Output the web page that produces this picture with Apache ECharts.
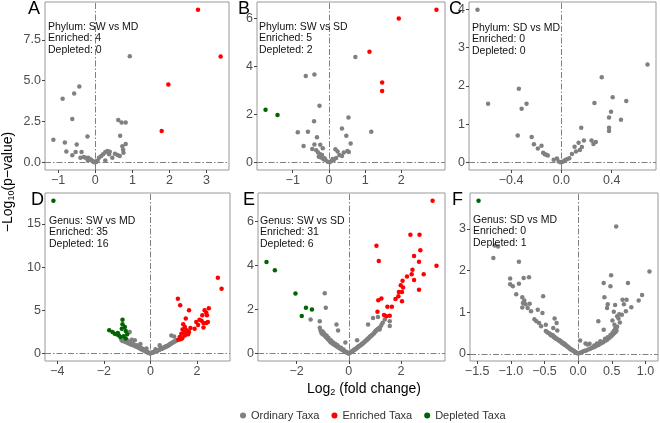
<!DOCTYPE html>
<html><head><meta charset="utf-8">
<script src="https://cdn.jsdelivr.net/npm/echarts@6/dist/echarts.min.js"></script>
<style>html,body{margin:0;padding:0;background:#fff}#c{width:660px;height:423px}</style>
</head><body><div id="c"></div>
<script>
// ---------- Panel A: Phylum SW vs MD ----------
const aOrdinary = [[0.93,6.5],[-0.88,3.89],[-0.57,4.22],[-0.43,4.64],[-0.62,2.65],[-1.13,1.38],[-0.82,1.22],[-0.21,1.59],[-0.5,1.1],[-0.78,0.67],[-0.62,0.43],[-0.53,0.63],[-0.37,0.63],[-0.4,0.29],[-0.31,0.33],[-0.26,0.29],[-0.19,0.29],[-0.15,0.2],[-0.11,0.16],[-0.2,0.12],[-0.05,0.04],[-0.03,0.0],[0.02,0.02],[0.06,0.1],[0.1,0.29],[0.16,0.39],[0.21,0.49],[0.27,0.63],[0.33,0.69],[0.39,0.65],[0.37,0.49],[0.27,0.12],[0.46,0.29],[0.53,0.53],[0.62,2.6],[0.71,2.44],[0.82,2.44],[0.67,1.63],[0.6,0.45],[0.66,0.39],[0.75,0.77],[0.82,1.12],[0.73,0.98],[0.76,0.59],[0.01,0.05],[-0.08,0.08],[0.04,0.06]];
const aEnriched = [[2.77,9.35],[1.97,4.77],[1.79,1.92],[3.38,6.48]];
const aDepleted = [];
const aNote = ['Phylum: SW vs MD','Enriched: 4','Depleted: 0'];
const aXTicks = [-1,0,1,2,3];
const aYTicks = [0,2.5,5,7.5];

// ---------- Panel B: Phylum SW vs SD ----------
const bOrdinary = [[0.73,4.4],[-0.64,3.61],[-0.4,3.67],[-0.26,2.37],[-0.41,1.72],[-0.86,1.27],[-0.58,1.29],[-0.33,1.06],[-0.7,0.69],[-0.4,0.76],[-0.46,0.57],[-0.24,0.74],[-0.17,0.6],[-0.35,0.52],[-0.3,0.42],[-0.24,0.35],[-0.19,0.32],[-0.28,0.24],[-0.22,0.21],[-0.15,0.14],[-0.09,0.1],[-0.03,0.04],[0.02,0.01],[0.07,0.07],[0.13,0.1],[0.2,0.19],[0.18,0.56],[0.24,0.46],[0.29,0.32],[0.36,0.28],[0.41,0.42],[0.51,0.48],[0.55,0.44],[0.6,0.8],[0.48,1.12],[0.36,1.42],[0.54,1.88],[1.17,1.29],[-0.12,0.18],[0.1,0.15]];
const bEnriched = [[1.93,6.01],[1.12,4.62],[1.47,3.34],[1.47,2.99],[2.97,6.38]];
const bDepleted = [[-1.75,2.2],[-1.42,1.99]];
const bNote = ['Phylum: SW vs SD','Enriched: 5','Depleted: 2'];
const bXTicks = [-1,0,1,2];
const bYTicks = [0,2,4,6];

// ---------- Panel C: Phylum SD vs MD ----------
const cOrdinary = [[-0.667,3.99],[0.685,2.56],[-0.583,1.54],[-0.338,1.93],[-0.277,1.54],[-0.316,1.41],[-0.347,0.71],[-0.236,0.67],[-0.218,0.48],[-0.187,0.37],[-0.158,0.44],[-0.145,0.26],[-0.132,0.22],[-0.119,0.21],[-0.108,0.19],[-0.061,0.08],[-0.035,0.11],[-0.021,0.03],[-0.008,0.01],[0.005,0.02],[0.018,0.04],[0.031,0.07],[0.045,0.09],[0.063,0.12],[0.084,0.23],[0.105,0.42],[0.116,0.29],[0.137,0.52],[0.158,0.91],[0.147,0.33],[0.163,0.41],[0.179,0.58],[0.24,0.58],[0.255,0.49],[0.274,0.54],[0.263,1.56],[0.321,2.23],[0.379,1.18],[0.395,1.33],[0.408,1.71],[0.379,0.91],[0.379,0.83],[0.474,1.12],[0.516,1.61]];
const cEnriched = [];
const cDepleted = [];
const cNote = ['Phylum: SD vs MD','Enriched: 0','Depleted: 0'];
const cXTicks = [-0.4,0,0.4];
const cYTicks = [0,1,2,3,4];

// ---------- Panel D: Genus SW vs MD ----------
const dOrdinary = [[-1.25,1.6],[-1.2,1.45],[-1.15,1.5],[-1.1,1.35],[-1.05,1.4],[-1.0,1.25],[-0.98,1.5],[-0.95,1.2],[-0.92,1.3],[-0.89,2.5],[-0.88,1.1],[-0.85,1.2],[-0.82,1.05],[-0.8,1.6],[-0.78,1.0],[-0.75,1.1],[-0.72,0.95],[-0.7,1.0],[-0.67,1.53],[-0.66,0.85],[-0.63,0.9],[-0.6,0.8],[-0.58,0.95],[-0.55,0.75],[-0.52,0.7],[-0.5,0.8],[-0.48,0.65],[-0.45,0.6],[-0.43,1.1],[-0.42,0.55],[-0.4,0.6],[-0.38,0.5],[-0.35,0.45],[-0.33,0.55],[-0.3,0.4],[-0.28,0.35],[-0.25,0.38],[-0.23,0.3],[-0.2,0.25],[-0.18,0.3],[-0.17,0.58],[-0.15,0.2],[-0.13,0.15],[-0.1,0.12],[-0.08,0.1],[-0.05,0.07],[-0.03,0.04],[-0.01,0.02],[0.01,0.02],[0.03,0.05],[0.05,0.08],[0.08,0.1],[0.1,0.13],[0.12,0.15],[0.15,0.18],[0.18,0.22],[0.2,0.25],[0.22,0.5],[0.25,0.28],[0.28,0.32],[0.3,0.35],[0.33,0.38],[0.35,0.42],[0.38,0.45],[0.4,0.96],[0.42,0.5],[0.45,0.52],[0.48,0.55],[0.5,0.6],[0.52,0.62],[0.55,0.65],[0.58,0.68],[0.6,0.72],[0.62,0.75],[0.65,0.78],[0.68,0.8],[0.7,0.85],[0.72,0.88],[0.75,0.9],[0.78,0.95],[0.8,1.0],[0.83,1.05],[0.85,1.1],[0.88,1.15],[0.9,2.1],[0.92,1.2],[0.95,1.25],[0.98,1.3],[1.0,1.35],[1.02,1.96],[1.05,1.4],[1.08,1.45],[1.1,1.5],[1.12,1.55]];
const dEnriched = [[1.18,6.35],[1.28,5.58],[1.66,5.0],[1.52,4.04],[1.41,3.38],[1.48,3.08],[1.38,2.77],[1.55,2.69],[1.66,2.5],[1.33,2.3],[1.48,2.1],[1.26,1.92],[1.37,1.77],[1.62,2.23],[1.9,2.88],[1.97,3.65],[2.11,3.92],[2.23,4.42],[2.33,5.0],[2.4,4.73],[2.51,5.23],[2.43,4.42],[2.28,3.54],[2.4,3.54],[2.47,3.65],[2.28,3.0],[2.9,8.77],[3.06,7.5],[1.2,1.6],[1.3,1.65],[1.45,2.45],[1.58,2.6],[2.05,3.3],[2.2,3.8],[1.72,2.95]];
const dDepleted = [[-4.17,17.69],[-1.77,2.69],[-1.63,2.5],[-1.53,2.3],[-1.43,2.19],[-1.35,2.1],[-1.4,2.38],[-1.2,3.92],[-1.23,2.88],[-1.1,3.07],[-1.06,2.61],[-1.29,1.92],[-1.15,2.0],[-1.0,2.23],[-1.2,3.38],[-1.06,1.73]];
const dNote = ['Genus: SW vs MD','Enriched: 35','Depleted: 16'];
const dXTicks = [-4,-2,0,2];
const dYTicks = [0,5,10,15];

// ---------- Panel E: Genus SW vs SD ----------
const eOrdinary = [[-1.46,1.55],[-1.11,1.47],[-1.11,1.17],[-0.92,2.74],[-0.88,2.08],[-1.08,1.05],[-1.05,0.95],[-1.02,0.9],[-1.0,1.0],[-0.97,0.85],[-0.95,0.92],[-0.9,0.8],[-0.88,0.75],[-0.85,0.82],[-0.82,0.7],[-0.8,0.65],[-0.78,0.72],[-0.75,0.6],[-0.72,0.55],[-0.7,0.62],[-0.68,0.5],[-0.65,0.55],[-0.62,0.45],[-0.6,0.5],[-0.58,0.42],[-0.55,0.4],[-0.52,0.45],[-0.5,0.35],[-0.47,1.32],[-0.45,0.32],[-0.43,0.38],[-0.41,1.05],[-0.4,0.28],[-0.38,0.3],[-0.35,0.25],[-0.32,0.22],[-0.3,0.26],[-0.28,0.2],[-0.25,0.17],[-0.22,0.15],[-0.2,0.18],[-0.18,0.12],[-0.15,0.1],[-0.13,0.5],[-0.12,0.08],[-0.1,0.07],[-0.08,0.05],[-0.05,0.04],[-0.03,0.02],[-0.01,0.01],[0.01,0.01],[0.03,0.03],[0.05,0.05],[0.07,0.06],[0.1,0.08],[0.12,0.1],[0.15,0.12],[0.17,0.14],[0.2,0.16],[0.22,0.18],[0.25,0.2],[0.28,0.22],[0.3,0.25],[0.32,0.6],[0.33,0.27],[0.35,0.3],[0.38,0.32],[0.4,0.34],[0.42,0.36],[0.45,0.38],[0.48,0.4],[0.5,0.43],[0.52,0.45],[0.55,0.47],[0.58,0.5],[0.6,0.52],[0.62,0.55],[0.65,0.58],[0.68,0.6],[0.7,0.63],[0.72,0.66],[0.74,1.32],[0.75,0.68],[0.78,0.72],[0.8,0.75],[0.82,0.78],[0.85,0.8],[0.88,0.83],[0.9,0.86],[0.93,1.62],[0.95,0.9],[0.98,0.95],[1.0,0.98],[1.03,1.02],[1.05,1.05],[1.08,1.08],[1.12,1.66],[1.12,1.12],[1.15,1.15],[1.18,1.09],[1.2,1.2],[1.25,1.3],[1.38,1.55],[1.57,1.47],[1.57,1.25],[1.3,1.4]];
const eEnriched = [[1.06,4.89],[1.15,4.2],[2.71,5.39],[2.36,5.39],[2.74,4.69],[2.5,4.43],[2.69,4.17],[2.44,3.8],[2.87,3.6],[2.23,3.5],[2.41,3.6],[2.5,3.34],[2.06,3.3],[1.99,3.1],[2.08,3.0],[1.92,2.8],[2.04,2.8],[2.69,2.9],[1.79,2.48],[2.04,2.38],[1.25,2.5],[1.13,2.42],[1.48,2.13],[1.65,2.13],[1.1,1.9],[1.35,1.75],[1.44,1.69],[1.57,1.72],[3.21,6.94],[3.36,3.98],[1.9,2.6]];
const eDepleted = [[-3.15,4.16],[-2.83,3.78],[-2.04,2.73],[-1.64,2.08],[-1.41,2.0],[-1.8,1.7]];
const eNote = ['Genus: SW vs SD','Enriched: 31','Depleted: 6'];
const eXTicks = [-2,0,2];
const eYTicks = [0,2,4,6];

// ---------- Panel F: Genus SD vs MD ----------
const fOrdinary = [[-1.26,2.3],[-1.24,2.6],[-1.19,2.58],[-0.88,2.21],[-1.01,1.81],[-1.01,1.67],[-0.97,1.62],[-0.88,1.68],[-0.81,1.82],[-0.73,1.84],[-0.92,1.43],[-0.83,1.36],[-0.8,1.28],[-0.82,1.22],[-0.78,1.19],[-0.72,1.2],[-0.83,1.11],[-0.75,1.1],[-0.7,1.02],[-0.6,1.06],[-0.52,1.38],[-0.53,0.98],[-0.65,0.83],[-0.62,0.78],[-0.58,0.74],[-0.55,0.66],[-0.48,0.7],[-0.35,0.85],[-0.32,0.74],[-0.37,0.62],[-0.31,0.56],[-0.48,0.55],[-0.46,0.52],[-0.44,0.5],[-0.42,0.48],[-0.41,0.46],[-0.4,0.44],[-0.38,0.45],[-0.37,0.42],[-0.36,0.4],[-0.35,0.41],[-0.34,0.38],[-0.33,0.36],[-0.32,0.37],[-0.3,0.34],[-0.29,0.32],[-0.28,0.33],[-0.27,0.3],[-0.26,0.31],[-0.25,0.28],[-0.24,0.26],[-0.23,0.27],[-0.22,0.25],[-0.21,0.22],[-0.2,0.24],[-0.19,0.21],[-0.18,0.2],[-0.17,0.19],[-0.16,0.17],[-0.15,0.16],[-0.14,0.15],[-0.13,0.13],[-0.12,0.12],[-0.11,0.11],[-0.1,0.1],[-0.09,0.09],[-0.08,0.08],[-0.07,0.07],[-0.06,0.06],[-0.05,0.05],[-0.04,0.04],[-0.03,0.03],[-0.02,0.02],[-0.01,0.01],[0.01,0.01],[0.02,0.02],[0.03,0.32],[0.04,0.03],[0.06,0.04],[0.08,0.06],[0.1,0.07],[0.11,0.25],[0.12,0.08],[0.14,0.22],[0.15,0.1],[0.17,0.24],[0.18,0.12],[0.2,0.14],[0.22,0.15],[0.24,0.2],[0.25,0.17],[0.27,0.19],[0.28,0.25],[0.3,0.21],[0.3,0.78],[0.32,0.23],[0.33,0.3],[0.35,0.26],[0.37,0.28],[0.38,0.58],[0.39,0.3],[0.4,0.36],[0.41,0.32],[0.43,0.34],[0.44,0.4],[0.45,0.37],[0.47,0.39],[0.48,0.45],[0.49,0.42],[0.5,0.44],[0.51,0.5],[0.52,0.47],[0.53,0.55],[0.54,0.5],[0.55,0.6],[0.56,0.53],[0.57,0.56],[0.58,0.65],[0.565,3.06],[0.49,1.89],[0.38,1.7],[0.48,1.62],[0.74,1.7],[1.06,1.98],[0.39,1.36],[0.44,1.19],[0.55,1.17],[0.43,1.1],[0.66,1.3],[0.68,1.19],[0.72,1.3],[0.71,1.02],[0.65,0.94],[0.79,1.12],[0.9,1.28],[0.95,1.41],[0.53,1.01],[0.51,0.8],[0.54,0.7],[0.61,0.95],[0.6,0.85],[0.62,0.75],[0.58,0.9]];
const fEnriched = [];
const fDepleted = [[-1.48,3.68]];
const fNote = ['Genus: SD vs MD','Enriched: 0','Depleted: 1'];
const fXTicks = [-1.5,-1,-0.5,0,0.5,1];
const fYTicks = [0,1,2,3];

const legendNames = ['Ordinary Taxa','Enriched Taxa','Depleted Taxa'];

// ---------- layout (positions / styles) ----------
const panels = [
  {L:'A', g:[45,2,184,168], ord:aOrdinary, enr:aEnriched, dep:aDepleted, note:aNote, xt:aXTicks, yt:aYTicks, xd:0, yd:1, lp:[28,0], np:[48,21]},
  {L:'B', g:[257,2,188,168], ord:bOrdinary, enr:bEnriched, dep:bDepleted, note:bNote, xt:bXTicks, yt:bYTicks, xd:0, yd:0, lp:[238,0], np:[259,21]},
  {L:'C', g:[469,2,187,168], ord:cOrdinary, enr:cEnriched, dep:cDepleted, note:cNote, xt:cXTicks, yt:cYTicks, xd:1, yd:0, lp:[449,0], np:[472,22]},
  {L:'D', g:[45,193,185,168], ord:dOrdinary, enr:dEnriched, dep:dDepleted, note:dNote, xt:dXTicks, yt:dYTicks, xd:0, yd:0, lp:[31,191], np:[49,215]},
  {L:'E', g:[258,193,187,168], ord:eOrdinary, enr:eEnriched, dep:eDepleted, note:eNote, xt:eXTicks, yt:eYTicks, xd:0, yd:0, lp:[243,191], np:[260,215]},
  {L:'F', g:[470,193,188,168], ord:fOrdinary, enr:fEnriched, dep:fDepleted, note:fNote, xt:fXTicks, yt:fYTicks, xd:1, yd:0, lp:[452,191], np:[473,214]}
];

const FONT = '"Liberation Sans", Arial, Helvetica, sans-serif';
const fmt = (v, d) => (d ? v.toFixed(d) : String(Math.round(v))).replace('-', '\u2212');
function range(pts, k) {
  let lo = Infinity, hi = -Infinity;
  pts.forEach(p => { lo = Math.min(lo, p[k]); hi = Math.max(hi, p[k]); });
  const e = (hi - lo) * 0.05;
  return [lo - e, hi + e];
}

const grid = [], xAxis = [], yAxis = [], series = [], graphic = [];
panels.forEach((p, i) => {
  grid.push({left:p.g[0], top:p.g[1], width:p.g[2], height:p.g[3], show:true, borderColor:'#999999', borderWidth:1, backgroundColor:'#fff'});
  const all = p.ord.concat(p.enr, p.dep);
  const xr = range(all, 0), yr = range(all, 1);
  const axisCommon = {
    type:'value', gridIndex:i, splitLine:{show:false},
    axisLine:{show:false, onZero:false}
  };
  xAxis.push(Object.assign({}, axisCommon, {
    min:xr[0], max:xr[1],
    axisTick:{show:true, length:3, lineStyle:{color:'#444', width:1}, customValues:p.xt},
    axisLabel:{customValues:p.xt, formatter:v => fmt(v, p.xd), color:'#4d4d4d', fontSize:12.5, fontFamily:FONT, margin:4}
  }));
  yAxis.push(Object.assign({}, axisCommon, {
    min:yr[0], max:yr[1],
    axisTick:{show:true, length:3, lineStyle:{color:'#444', width:1}, customValues:p.yt},
    axisLabel:{customValues:p.yt, formatter:v => fmt(v, p.yd), color:'#4d4d4d', fontSize:12.5, fontFamily:FONT, margin:4}
  }));
  series.push({
    name:legendNames[0], type:'scatter', xAxisIndex:i, yAxisIndex:i, data:p.ord,
    symbolSize:4.5, itemStyle:{color:'#808080', opacity:1}, silent:true, animation:false,
    markLine:{silent:true, symbol:'none', animation:false, label:{show:false},
      lineStyle:{color:'#808080', width:1, type:[6,2,1.5,2]},
      data:[{xAxis:0},{yAxis:0}]}
  });
  series.push({name:legendNames[1], type:'scatter', xAxisIndex:i, yAxisIndex:i, data:p.enr,
    symbolSize:4.5, itemStyle:{color:'#ff0000', opacity:1}, silent:true, animation:false});
  series.push({name:legendNames[2], type:'scatter', xAxisIndex:i, yAxisIndex:i, data:p.dep,
    symbolSize:4.5, itemStyle:{color:'#006400', opacity:1}, silent:true, animation:false});
  graphic.push({type:'text', left:p.lp[0], top:p.lp[1], z:100,
    style:{text:p.L, fontSize:18, fontFamily:FONT, fill:'#000'}});
  graphic.push({type:'text', left:p.np[0], top:p.np[1], z:100,
    style:{text:p.note.join('\n'), fontSize:10.5, lineHeight:11.5, fontFamily:FONT, fill:'#111'}});
});

graphic.push({type:'text', x:364, y:389, z:100,
  style:{text:'Log{sub|2} (fold change)', align:'center', verticalAlign:'middle', fontSize:14, fontFamily:FONT, fill:'#000',
    rich:{sub:{fontSize:9, fontFamily:FONT, padding:[7,0,0,0]}}}});
graphic.push({type:'text', x:8, y:182, rotation:Math.PI/2, z:100,
  style:{text:'\u2212Log{sub|10}(p\u2212value)', align:'center', verticalAlign:'middle', fontSize:14, fontFamily:FONT, fill:'#000',
    rich:{sub:{fontSize:9, fontFamily:FONT, padding:[7,0,0,0]}}}});

const chart = echarts.init(document.getElementById('c'), null, {renderer:'canvas'});
chart.setOption({
  animation:false,
  backgroundColor:'#fff',
  textStyle:{fontFamily:FONT},
  grid, xAxis, yAxis, series, graphic,
  legend:{data:legendNames, left:240, top:410, padding:0, icon:'circle', itemWidth:6, itemHeight:6, itemGap:12,
    textStyle:{fontSize:11, color:'#333', fontFamily:FONT}, selectedMode:false}
});
</script></body></html>
